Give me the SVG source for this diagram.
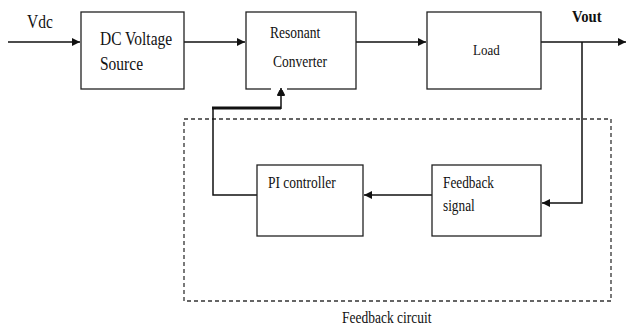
<svg xmlns="http://www.w3.org/2000/svg" width="627" height="327" viewBox="0 0 627 327">
<style>
.box{fill:#fff;stroke:#222;stroke-width:1.3}
.ln{fill:none;stroke:#111;stroke-width:1.5}
.t{font-family:"Liberation Serif","Times New Roman",serif;fill:#111}
</style>
<defs>
<marker id="ah" viewBox="0 0 10 10" refX="10" refY="5" markerWidth="8" markerHeight="8" markerUnits="userSpaceOnUse" orient="auto">
<path d="M0,0 L10,5 L0,10 Z" fill="#111"/>
</marker>
</defs>
<rect width="627" height="327" fill="#fff"/>
<g id="feedback-circuit">
<rect x="184" y="119" width="427" height="182" fill="none" stroke="#333" stroke-width="1.3" stroke-dasharray="4,3"/>
<text class="t" transform="translate(342,323) scale(1,1.2)" font-size="13.5">Feedback circuit</text>
</g>
<g id="connectors">
<line class="ln" x1="8" y1="42" x2="80" y2="42" marker-end="url(#ah)"/>
<line class="ln" x1="184" y1="42" x2="245" y2="42" marker-end="url(#ah)"/>
<line class="ln" x1="356" y1="42" x2="426" y2="42" marker-end="url(#ah)"/>
<line class="ln" x1="541" y1="42" x2="626" y2="42" marker-end="url(#ah)"/>
<polyline class="ln" points="582,42 582,203 542,203" marker-end="url(#ah)"/>
<line class="ln" x1="432" y1="195" x2="364" y2="195" marker-end="url(#ah)"/>
<polyline class="ln" points="257,195 213,195 213,108"/>
<polyline fill="none" stroke="#111" stroke-width="3" points="212,108 281,108"/>
<line class="ln" x1="281" y1="109" x2="281" y2="87" marker-end="url(#ah)"/>
</g>
<g id="vdc"><text class="t" transform="translate(27,28) scale(1,1.2)" font-size="15.5">Vdc</text></g>
<g id="vout"><text class="t" transform="translate(572,22) scale(1,1.2)" font-size="14.7" font-weight="bold">Vout</text></g>
<g id="dc-source">
<rect class="box" x="81" y="12" width="103" height="77"/>
<text class="t" transform="translate(100,45) scale(1,1.25)" font-size="15.5">DC Voltage</text>
<text class="t" transform="translate(100,70) scale(1,1.25)" font-size="15.5">Source</text>
</g>
<g id="resonant-converter">
<rect class="box" x="246" y="12" width="110" height="77"/>
<line x1="271" y1="89" x2="287" y2="89" stroke="#fff" stroke-width="2"/>
<line class="ln" x1="281" y1="95" x2="281" y2="88" marker-end="url(#ah)"/>
<text class="t" transform="translate(270,38) scale(1,1.2)" font-size="13.5">Resonant</text>
<text class="t" transform="translate(273,67) scale(1,1.2)" font-size="13.5">Converter</text>
</g>
<g id="load">
<rect class="box" x="427" y="12" width="114" height="77"/>
<text class="t" transform="translate(473,55) scale(1,1.2)" font-size="13">Load</text>
</g>
<g id="pi-controller">
<rect class="box" x="257" y="165" width="106" height="71"/>
<text class="t" transform="translate(268,188) scale(1,1.2)" font-size="13.5">PI controller</text>
</g>
<g id="feedback-signal">
<rect class="box" x="432" y="165" width="109" height="71"/>
<text class="t" transform="translate(443,188) scale(1,1.2)" font-size="13.3">Feedback</text>
<text class="t" transform="translate(443,211) scale(1,1.2)" font-size="13.3">signal</text>
</g>
</svg>
